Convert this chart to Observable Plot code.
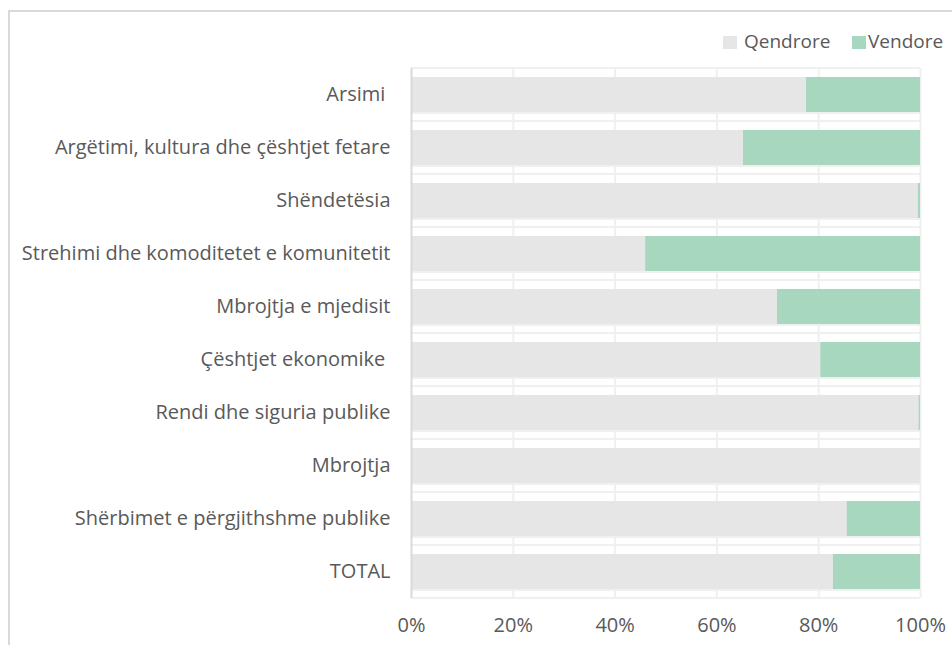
<!DOCTYPE html>
<html>
<head>
<meta charset="utf-8">
<script src="https://cdn.jsdelivr.net/npm/d3@7"></script>
<script src="https://cdn.jsdelivr.net/npm/@observablehq/plot@0.6"></script>
<style>
  body { margin: 0; background: #fff; overflow: hidden; }
  #wrap { position: relative; width: 952px; height: 645px; overflow: hidden; }
  #border { position: absolute; left: 8px; top: 10px; width: 1000px; height: 700px; border: 2px solid #d9d9d9; box-sizing: border-box; }
  #chart { position: absolute; left: 0; top: 0; }
  .lg { position: absolute; font-family: "Open Sans", sans-serif; font-size: 19px; color: #595959; line-height: 20px; }
  .sw { position: absolute; width: 14px; height: 13px; }
</style>
</head>
<body>
<div id="wrap">
  <div id="border"></div>
  <div id="chart"></div>
  <div id="legend"></div>
</div>
<script>
const categories = [
  "Arsimi\u00a0",
  "Argëtimi, kultura dhe çështjet fetare",
  "Shëndetësia",
  "Strehimi dhe komoditetet e komunitetit",
  "Mbrojtja e mjedisit",
  "Çështjet ekonomike\u00a0",
  "Rendi dhe siguria publike",
  "Mbrojtja",
  "Shërbimet e përgjithshme publike",
  "TOTAL"
];
const series = ["Qendrore", "Vendore"];
const qendrore = [77.6, 65.2, 99.6, 46.0, 71.9, 80.4, 99.7, 100, 85.6, 82.9];
const vendore  = [22.4, 34.8, 0.4, 54.0, 28.1, 19.6, 0.3, 0, 14.4, 17.1];
const ticks = [0, 20, 40, 60, 80, 100];
const tickLabels = ["0%", "20%", "40%", "60%", "80%", "100%"];
const colors = ["#e6e6e6", "#a7d7bf"];

const rows = categories.flatMap((c, i) => [
  {category: c, series: series[0], value: qendrore[i]},
  {category: c, series: series[1], value: vendore[i]}
]);

function hGrid(index, scales, values, dimensions) {
  const y = scales.y;
  const bw = y.bandwidth();
  const step = y.step ? y.step() : bw / (1 - 0.34);
  const gap = (step - bw) / 2;
  const x0 = dimensions.marginLeft, x1 = dimensions.width - dimensions.marginRight;
  const ys = [];
  categories.forEach(c => { ys.push(y(c) - gap); ys.push(y(c) + bw + 1); });
  ys.push(y(categories[categories.length - 1]) + bw + gap);
  const g = d3.create("svg:g");
  g.selectAll("line").data(ys).join("line")
    .attr("x1", x0).attr("x2", x1)
    .attr("y1", d => d).attr("y2", d => d)
    .attr("stroke", "#f0f0f0").attr("stroke-width", 2);
  return g.node();
}

const chart = Plot.plot({
  width: 952,
  height: 645,
  marginLeft: 411,
  marginRight: 32,
  marginTop: 68,
  marginBottom: 47,
  style: {fontFamily: "Open Sans, sans-serif", fontSize: "20px", color: "#595959", background: "transparent", overflow: "visible"},
  x: {domain: [0, 100], ticks: ticks, tickFormat: d => tickLabels[ticks.indexOf(d)], tickSize: 0, tickPadding: 19, label: null},
  y: {domain: categories, paddingInner: 0.34, paddingOuter: 0.17, tickSize: 0, tickPadding: 21, label: null},
  color: {domain: series, range: colors},
  marks: [
    Plot.ruleX(ticks.slice(1), {stroke: "#f0f0f0", strokeWidth: 2}),
    hGrid,
    Plot.barX(rows, {x: "value", y: "category", fill: "series"}),
    Plot.ruleX([0], {stroke: "#d9d9d9", strokeWidth: 2})
  ]
});
document.getElementById("chart").appendChild(chart);

const legend = document.getElementById("legend");
const lgPos = [{sw: 723, tx: 744}, {sw: 852, tx: 868}];
series.forEach((s, i) => {
  const sw = document.createElement("div");
  sw.className = "sw";
  sw.style.left = lgPos[i].sw + "px";
  sw.style.top = "36px";
  sw.style.background = colors[i];
  legend.appendChild(sw);
  const t = document.createElement("div");
  t.className = "lg";
  t.style.left = lgPos[i].tx + "px";
  t.style.top = "31px";
  t.textContent = s;
  legend.appendChild(t);
});
</script>
</body>
</html>
